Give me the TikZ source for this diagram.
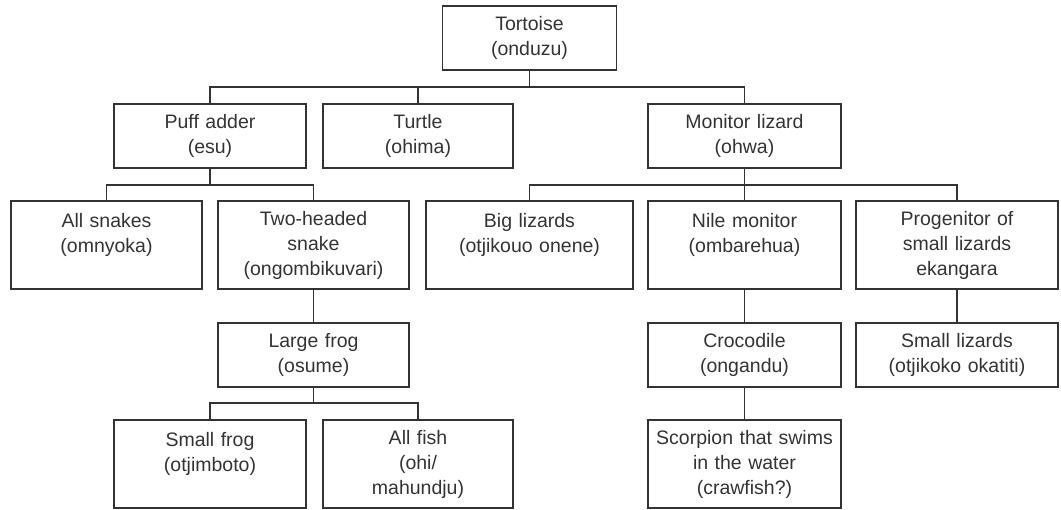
\documentclass[tikz,border=0pt]{standalone}
\usepackage{fontspec}
\setmainfont{Liberation Sans}
\usetikzlibrary{positioning, calc}
\definecolor{ink}{HTML}{333333}

\begin{document}
\begin{tikzpicture}[
    x=1pt, y=1pt,
    font=\fontsize{19.5}{25}\selectfont,
    box/.style={draw=ink, line width=1.3pt, text=ink, align=center, inner xsep=0pt, inner ysep=4pt, outer sep=0pt, text width=#1, minimum height=64pt},
    box/.default=192pt,
    tall/.style={minimum height=88pt},
    link/.style={draw=ink, line width=1.3pt},
  ]
  \useasboundingbox (0,0) rectangle (1061,-510);
  % ---- middle row (the widest one)
  \node[box=191pt, tall] (snakes) at (106.5,-245) {All snakes\\ (omnyoka)\\ ~};
  \node[box=191pt, tall, right=16pt of snakes] (twohead) {Two-headed\\ snake\\ (ongombikuvari)};
  \node[box=207pt, tall, right=17pt of twohead] (biglz) {Big lizards\\ (otjikouo onene)\\ ~};
  \node[box=193pt, tall, right=15pt of biglz] (nile) {Nile monitor\\ (ombarehua)\\ ~};
  \node[box=202pt, tall, right=15pt of nile] (progen) {Progenitor of\\ small lizards\\ ekangara};
  % ---- upper rows
  \node[box, above=33pt of $(snakes.north)!.5!(twohead.north)$] (puff) {Puff adder\\ (esu)};
  \node[box=190pt, right=17pt of puff] (turtle) {Turtle\\ (ohima)};
  \node[box=193pt, above=33pt of nile] (monitor) {Monitor lizard\\ (ohwa)};
  \node[box=174pt, above=34pt of $(turtle.north -| biglz.north)$] (tort) {Tortoise\\ (onduzu)};
  % ---- lower rows
  \node[box=191pt, below=34pt of twohead] (lfrog) {Large frog\\ (osume)};
  \node[box, tall, below=33pt of $(lfrog.south -| puff.south)$] (sfrog) {Small frog\\ (otjimboto)\\ ~};
  \node[box=190pt, tall, right=17pt of sfrog] (fish) {All fish\\ (ohi/\\ mahundju)};
  \node[box=193pt, below=34pt of nile] (croc) {Crocodile\\ (ongandu)};
  \node[box=193pt, tall, below=33pt of croc] (scorp) {Scorpion that swims\\ in the water\\ (crawfish?)};
  \node[box=202pt, below=34pt of progen] (smlz) {Small lizards\\ (otjikoko okatiti)};
  % ---- connectors
  \draw[link] (tort.south) -- ++(0,-17) -| (puff.north)
              (tort.south) -- ++(0,-17) -| (turtle.north)
              (tort.south) -- ++(0,-17) -| (monitor.north);
  \draw[link] (puff.south) -- ++(0,-17) -| (snakes.north)
              (puff.south) -- ++(0,-17) -| (twohead.north);
  \draw[link] (monitor.south) -- ++(0,-17) -| (biglz.north)
              (monitor.south) -- (nile.north)
              (monitor.south) -- ++(0,-17) -| (progen.north);
  \draw[link] (twohead.south) -- (lfrog.north);
  \draw[link] (lfrog.south) -- ++(0,-16) -| (sfrog.north)
              (lfrog.south) -- ++(0,-16) -| (fish.north);
  \draw[link] (nile.south) -- (croc.north);
  \draw[link] (croc.south) -- (scorp.north);
  \draw[link] (progen.south) -- (smlz.north);
\end{tikzpicture}
\end{document}
